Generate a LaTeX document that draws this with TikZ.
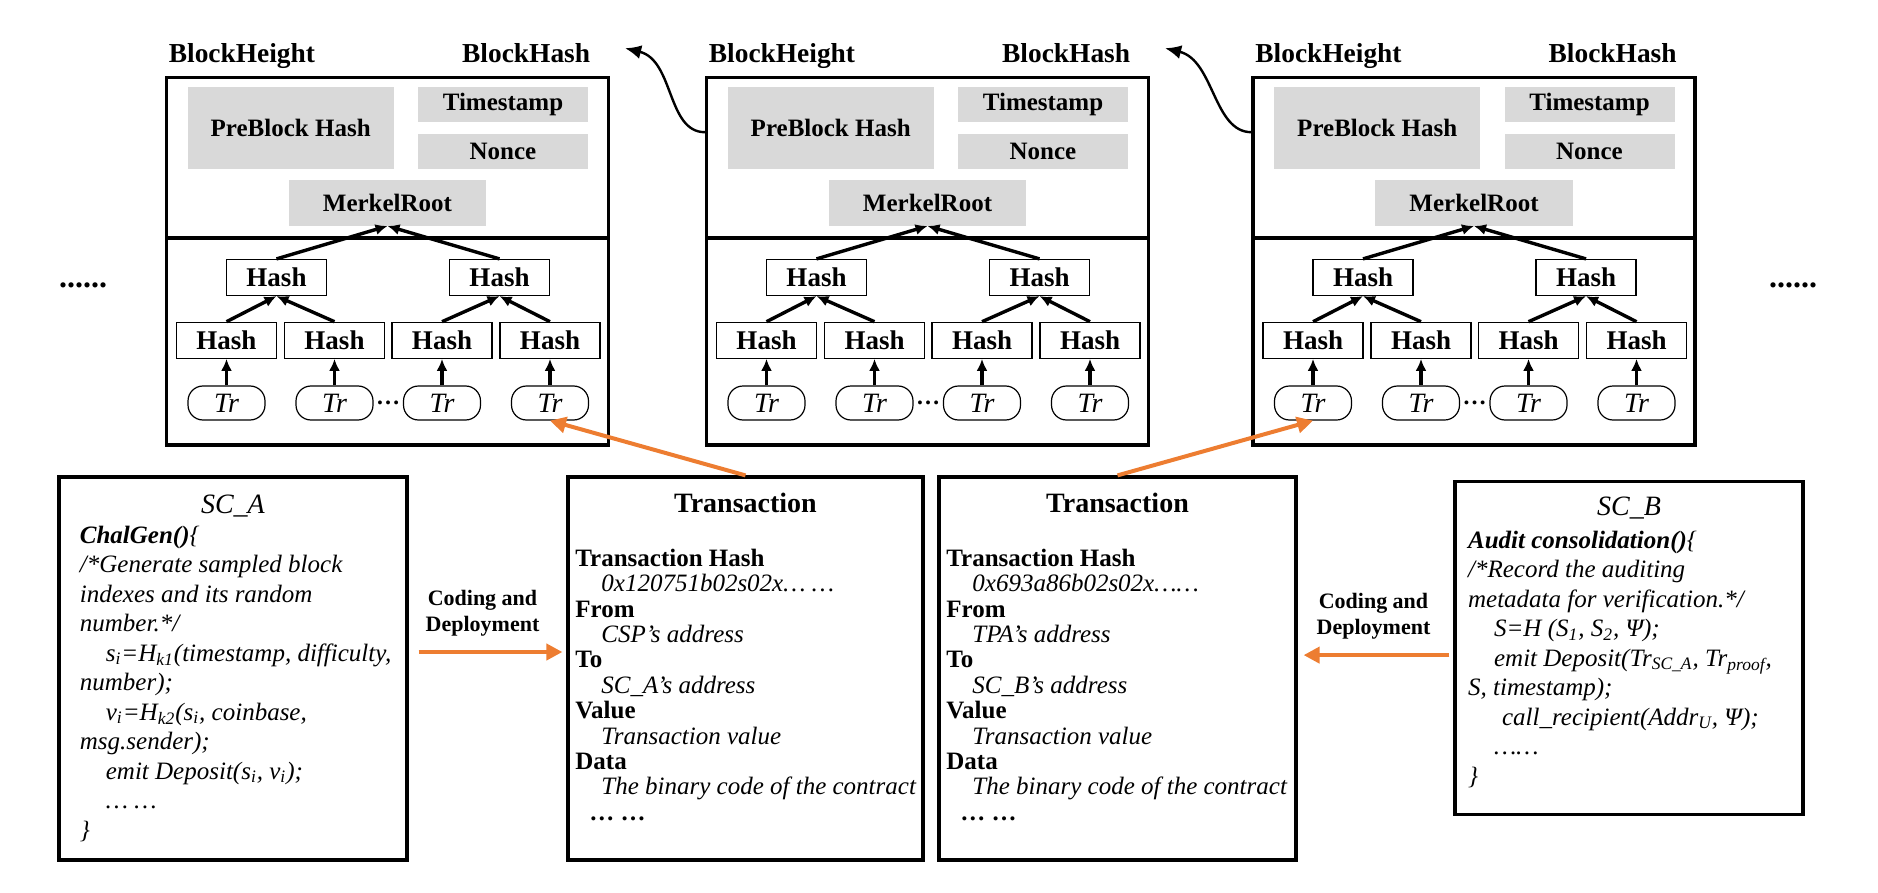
\documentclass[tikz,border=0pt]{standalone}
\usepackage{fontspec}
\setmainfont{Liberation Serif}
\usetikzlibrary{arrows.meta,calc,positioning}

\definecolor{boxgrey}{RGB}{217,217,217}
\definecolor{deployorange}{RGB}{237,125,49}

\tikzset{
  blockframe/.style={draw, line width=1.6pt, inner sep=0pt},
  lbl/.style={font=\fontsize{13.7}{15}\selectfont\bfseries, inner sep=0pt},
  greybox/.style={fill=boxgrey, inner sep=0pt, font=\fontsize{12.5}{14}\selectfont\bfseries},
  hashbox/.style={draw, line width=0.6pt, minimum width=50pt, minimum height=18pt,
    inner sep=0pt, font=\fontsize{13.5}{15}\selectfont\bfseries},
  trbox/.style={draw, line width=0.6pt, rounded corners=7.5pt, minimum width=38.5pt,
    minimum height=17pt, inner sep=0pt, font=\fontsize{14}{15}\selectfont\itshape},
  treearrow/.style={line width=1.7pt, -{Latex[length=6pt,width=5.5pt]}},
  linkarrow/.style={line width=1.2pt, -{Latex[length=8pt,width=7pt]}},
  orangearrow/.style={draw=deployorange, line width=2pt, -{Triangle[length=8pt,width=8pt]}},
  txtext/.style={font=\fontsize{12.5}{12.7}\selectfont, align=left, inner sep=0pt},
  codetext/.style={font=\fontsize{12.5}{14.75}\selectfont\itshape, align=left, inner sep=0pt},
  boxtitle/.style={font=\fontsize{14}{15}\selectfont, inner sep=0pt},
  deploylbl/.style={font=\fontsize{11}{13}\selectfont\bfseries, align=center, inner sep=0pt}
}

\begin{document}
\begin{tikzpicture}[x=0.5pt,y=-0.5pt]
  \useasboundingbox (0,0) rectangle (1878,893);

  % the three blocks of the chain
  \foreach \bx [count=\b] in {166.5,706.5,1253} {
    \node[blockframe, minimum width=221pt, minimum height=183.6pt] (b\b) at (\bx+221,261.4) {};
    \draw[line width=1.6pt] (\bx,238) -- (\bx+442,238);
    \node[lbl, anchor=base west] (bh\b) at (\bx+2,63) {BlockHeight};
    \node[lbl, anchor=base east] (bk\b) at (\bx+424,63) {BlockHash};
    \node[greybox, minimum width=103.2pt, minimum height=41pt] (pre\b) at (\bx+124.2,128.3) {PreBlock Hash};
    \node[greybox, minimum width=85pt, minimum height=17.5pt] (ts\b) at (\bx+336.5,104.8) {Timestamp};
    \node[greybox, minimum width=85pt, minimum height=17.5pt] (nc\b) at (\bx+336.5,151.8) {Nonce};
    \node[greybox, minimum width=98.8pt, minimum height=22.8pt] (mr\b) at (\bx+221,202.8) {MerkelRoot};
    % merkle tree
    \node[hashbox] (hb\b-1) at (\bx+110,277.5) {Hash};
    \node[hashbox] (hb\b-2) at (\bx+333,277.5) {Hash};
    \foreach \leaf/\lx in {1/60,2/168,3/275.5,4/383.5} {
      \node[hashbox] (ha\b-\leaf) at (\bx+\lx,340.3) {Hash};
      \node[trbox] (tr\b-\leaf) at (\bx+\lx,403) {Tr};
      \draw[treearrow] (tr\b-\leaf.north) -- (ha\b-\leaf.south);
    }
    \node[font=\fontsize{12}{14}\selectfont\bfseries] (gap\b) at (\bx+221.5,403) {…};
    \draw[treearrow] (ha\b-1.north) -- (hb\b-1.south);
    \draw[treearrow] (ha\b-2.north) -- (hb\b-1.south);
    \draw[treearrow] (ha\b-3.north) -- (hb\b-2.south);
    \draw[treearrow] (ha\b-4.north) -- (hb\b-2.south);
    \draw[treearrow] (hb\b-1.north) -- (mr\b.south);
    \draw[treearrow] (hb\b-2.north) -- (mr\b.south);
  }
  \draw[linkarrow] ($(b2.north west)+(0,56)$) .. controls +(-38,0) and +(49,12) .. ($(b1.north east)+(15,-28)$);
  \draw[linkarrow] ($(b3.north west)+(0,56)$) .. controls +(-38,0) and +(49,12) .. ($(b2.north east)+(15,-28)$);
  \node[font=\fontsize{16}{18}\selectfont\bfseries] (dotsL) at (83,285) {......};
  \node[font=\fontsize{16}{18}\selectfont\bfseries] (dotsR) at (1793,285) {......};

  % smart contract A
  \node[blockframe, minimum width=174pt, minimum height=191.5pt] (scA) at (233,668.5) {};
  \node[boxtitle, anchor=base] (scAt) at (233,513) {\textit{SC\_A}};
  \node[codetext, anchor=north west] (scAb) at (79.5,522.3) {\strut\textbf{ChalGen()}\{\\
    /*Generate sampled block\\
    indexes and its random\\
    number.*/\\
    \hspace*{13pt}s\textsubscript{i}=H\textsubscript{k1}(timestamp, difficulty,\\
    number);\\
    \hspace*{13pt}v\textsubscript{i}=H\textsubscript{k2}(s\textsubscript{i}, coinbase,\\
    msg.sender);\\
    \hspace*{13pt}emit Deposit(s\textsubscript{i}, v\textsubscript{i});\\
    \hspace*{13pt}… …\\
    \}};

  % transactions
  \node[blockframe, minimum width=177.5pt, minimum height=191.5pt] (txA) at (745.5,668.5) {};
  \node[boxtitle, anchor=base] (txAt) at (745.5,512) {\textbf{Transaction}};
  \node[txtext, anchor=north west] (txAb) at (575,548.2) {\strut\textbf{Transaction Hash}\\
    \hspace*{13pt}\textit{0x120751b02s02x… …}\\
    \textbf{From}\\
    \hspace*{13pt}\textit{CSP’s address}\\
    \textbf{To}\\
    \hspace*{13pt}\textit{SC\_A’s address}\\
    \textbf{Value}\\
    \hspace*{13pt}\textit{Transaction value}\\
    \textbf{Data}\\
    \hspace*{13pt}\textit{The binary code of the contract}\\
    \hspace*{7pt}\textbf{… …}};

  \node[blockframe, minimum width=178.5pt, minimum height=191.5pt] (txB) at (1117.5,668.5) {};
  \node[boxtitle, anchor=base] (txBt) at (1117.5,512) {\textbf{Transaction}};
  \node[txtext, anchor=north west] (txBb) at (946,548.2) {\strut\textbf{Transaction Hash}\\
    \hspace*{13pt}\textit{0x693a86b02s02x……}\\
    \textbf{From}\\
    \hspace*{13pt}\textit{TPA’s address}\\
    \textbf{To}\\
    \hspace*{13pt}\textit{SC\_B’s address}\\
    \textbf{Value}\\
    \hspace*{13pt}\textit{Transaction value}\\
    \textbf{Data}\\
    \hspace*{13pt}\textit{The binary code of the contract}\\
    \hspace*{7pt}\textbf{… …}};

  % smart contract B
  \node[blockframe, minimum width=174pt, minimum height=166.2pt] (scB) at (1629,647.9) {};
  \node[boxtitle, anchor=base] (scBt) at (1629,515) {\textit{SC\_B}};
  \node[codetext, anchor=north west] (scBb) at (1467.7,527.3) {\strut\textbf{Audit consolidation()}\{\\
    /*Record the auditing\\
    metadata for verification.*/\\
    \hspace*{13pt}S=H (S\textsubscript{1}, S\textsubscript{2}, Ψ);\\
    \hspace*{13pt}emit Deposit(Tr\textsubscript{SC\_A}, Tr\textsubscript{proof},\\
    S, timestamp);\\
    \hspace*{17pt}call\_recipient(Addr\textsubscript{U}, Ψ);\\
    \hspace*{13pt}……\\
    \}};

  % deployment and recording arrows
  \draw[orangearrow, shorten >=2pt] ([xshift=5pt,yshift=8.25pt]scA.east) --
    node[deploylbl, above=7pt, xshift=-5pt] (cdA) {Coding and\\Deployment} ([yshift=8.25pt]txA.west);
  \coordinate (cdBs) at ([xshift=-2pt,yshift=-3.6pt]scB.west);
  \draw[orangearrow, shorten >=3pt] (cdBs) --
    node[deploylbl, above=7pt] (cdB) {Coding and\\Deployment} (cdBs -| txB.east);
  \draw[orangearrow] (txA.north) -- (tr1-4.south);
  \draw[orangearrow] (txB.north) -- (tr3-1.south);
\end{tikzpicture}
\end{document}
